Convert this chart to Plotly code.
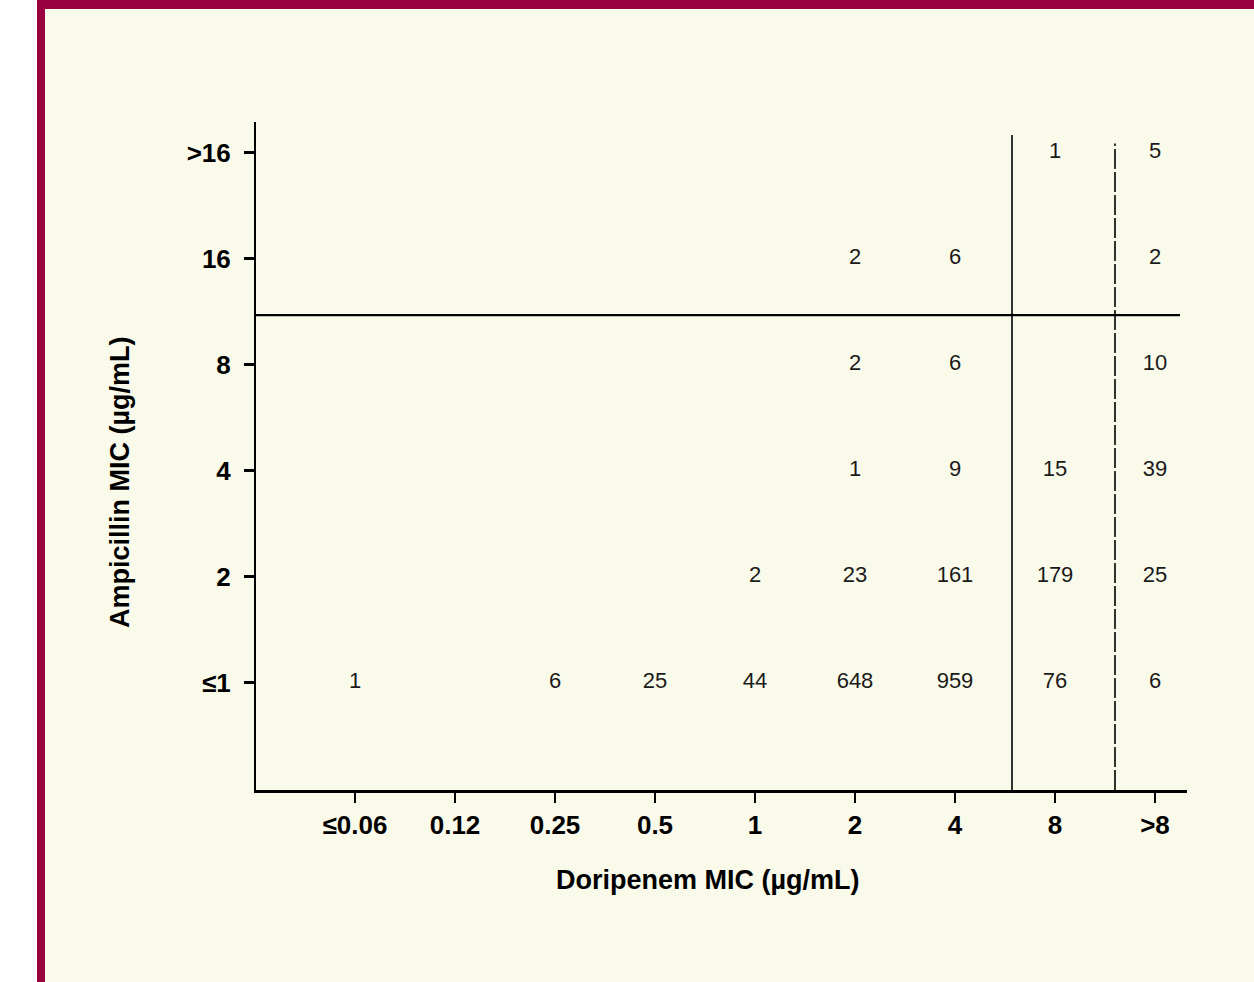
import plotly.graph_objects as go

# ---------------- data ----------------
dori_labels = ["≤0.06", "0.12", "0.25", "0.5", "1", "2", "4", "8", ">8"]
amp_labels = ["≤1", "2", "4", "8", "16", ">16"]

# counts per Ampicillin row (None = empty cell), ordered by Doripenem columns
row_le1 = [1, None, 6, 25, 44, 648, 959, 76, 6]
row_2 = [None, None, None, None, 2, 23, 161, 179, 25]
row_4 = [None, None, None, None, None, 1, 9, 15, 39]
row_8 = [None, None, None, None, None, 2, 6, None, 10]
row_16 = [None, None, None, None, None, 2, 6, None, 2]
row_gt16 = [None, None, None, None, None, None, None, 1, 5]
rows = [row_le1, row_2, row_4, row_8, row_16, row_gt16]

# breakpoint separators (in category-index units)
amp_breakpoint = 3.47
dori_breakpoint_solid = 6.57
dori_breakpoint_dashed = 7.6

# ---------------- figure ----------------
xs, ys, texts = [], [], []
for yi, row in enumerate(rows):
    for xi, v in enumerate(row):
        if v is not None:
            xs.append(xi)
            ys.append(yi)
            texts.append(str(v))

fig = go.Figure()
fig.add_trace(go.Scatter(
    x=xs, y=ys, text=texts, mode="text",
    textposition="middle center",
    textfont=dict(family="Liberation Sans, Arial", size=22, color="#1a1a1a"),
    hoverinfo="skip", showlegend=False,
))

cream = "#FAFAEB"
maroon = "#98003F"

shapes = [
    # horizontal breakpoint line
    dict(type="line", xref="x", yref="y", x0=-0.99, x1=8.25,
         y0=amp_breakpoint, y1=amp_breakpoint, line=dict(color="black", width=2.2)),
    # vertical solid line
    dict(type="line", xref="x", yref="y", x0=dori_breakpoint_solid, x1=dori_breakpoint_solid,
         y0=-1.01, y1=5.17, line=dict(color="black", width=1.6)),
    # vertical dashed line
    dict(type="line", xref="x", yref="y", x0=dori_breakpoint_dashed, x1=dori_breakpoint_dashed,
         y0=-1.01, y1=5.09, line=dict(color="black", width=1.6, dash="20px,3px")),
    # frame: white strip on the far left
    dict(type="rect", xref="paper", yref="paper", x0=-0.30, x1=(37 - 256) / 931,
         y0=-0.30, y1=1.20, fillcolor="white", line=dict(width=0), layer="below"),
    # maroon left bar
    dict(type="rect", xref="paper", yref="paper", x0=(37 - 256) / 931, x1=(45 - 256) / 931,
         y0=-0.30, y1=1.20, fillcolor=maroon, line=dict(width=0), layer="below"),
    # maroon top bar
    dict(type="rect", xref="paper", yref="paper", x0=(37 - 256) / 931, x1=1.10,
         y0=(790 - 9) / 668, y1=1.20, fillcolor=maroon, line=dict(width=0), layer="below"),
]

fig.update_layout(
    width=1254, height=982,
    margin=dict(l=256, r=67, t=122, b=192),
    paper_bgcolor=cream, plot_bgcolor=cream,
    showlegend=False,
    shapes=shapes,
    xaxis=dict(
        range=[-0.99, 8.32], tickmode="array",
        tickvals=list(range(len(dori_labels))), ticktext=dori_labels,
        showgrid=False, zeroline=False,
        showline=True, linecolor="black", linewidth=3,
        ticks="outside", ticklen=10, tickwidth=1.5, tickcolor="black",
        tickfont=dict(family="Liberation Sans, Arial", size=26, color="black", weight="bold"),
        fixedrange=True,
    ),
    yaxis=dict(
        range=[-1.01, 5.292], tickmode="array",
        tickvals=list(range(len(amp_labels))), ticktext=amp_labels,
        showgrid=False, zeroline=False,
        showline=True, linecolor="black", linewidth=2,
        ticks="outside", ticklen=10, tickwidth=2.5, tickcolor="black",
        ticklabelstandoff=8,
        tickfont=dict(family="Liberation Sans, Arial", size=26, color="black", weight="bold"),
        fixedrange=True,
    ),
    annotations=[
        dict(text="Doripenem MIC (µg/mL)", xref="paper", yref="paper",
             x=(708 - 256) / 931, y=(790 - 880) / 668, showarrow=False,
             xanchor="center", yanchor="middle",
             font=dict(family="Liberation Sans, Arial", size=27, color="black", weight="bold")),
        dict(text="Ampicillin MIC (µg/mL)", xref="paper", yref="paper",
             x=(120 - 256) / 931, y=(790 - 482) / 668, showarrow=False, textangle=-90,
             xanchor="center", yanchor="middle",
             font=dict(family="Liberation Sans, Arial", size=27, color="black", weight="bold")),
    ],
)

fig.write_html(
    "out.html",
    config={"displayModeBar": False},
    post_script="document.body.style.margin='0';document.body.style.overflow='hidden';",
)
